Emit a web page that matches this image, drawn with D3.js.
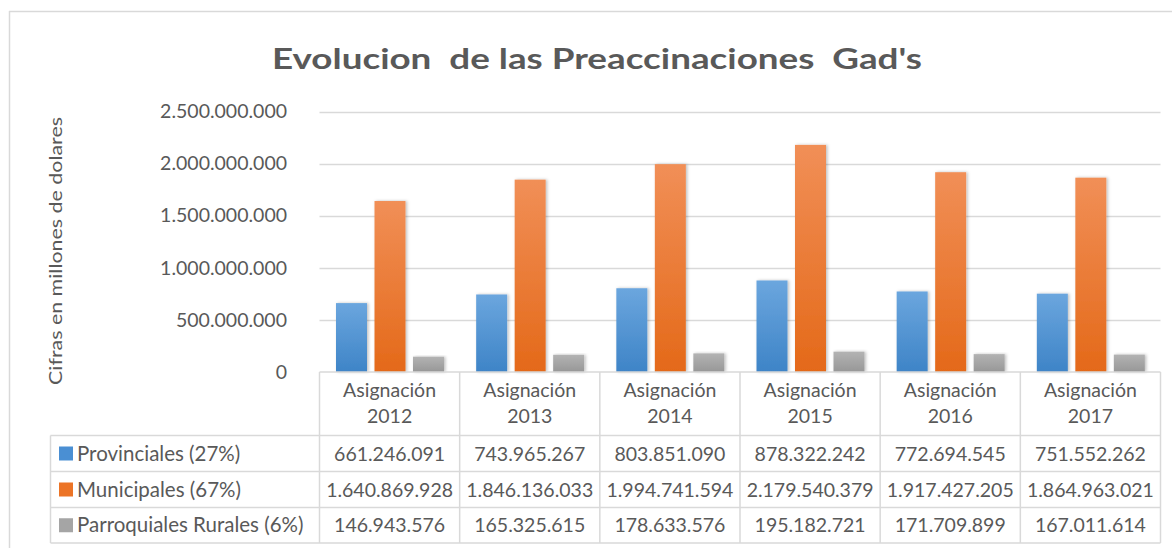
<!DOCTYPE html>
<html><head><meta charset="utf-8">
<script src="https://cdn.jsdelivr.net/npm/d3@7"></script>
<style>
html,body{margin:0;padding:0;background:#fff;}
svg{display:block;font-family:Lato,"Open Sans",sans-serif;}
</style></head>
<body>
<svg id="chart" width="1172" height="548"></svg>
<script>
const categories = ["Asignación 2012","Asignación 2013","Asignación 2014","Asignación 2015","Asignación 2016","Asignación 2017"];
const seriesNames = ["Provinciales (27%)","Municipales (67%)","Parroquiales Rurales (6%)"];
const provinciales = [661246091, 743965267, 803851090, 878322242, 772694545, 751552262];
const municipales = [1640869928, 1846136033, 1994741594, 2179540379, 1917427205, 1864963021];
const parroquiales = [146943576, 165325615, 178633576, 195182721, 171709899, 167011614];
const yTicks = [0, 500000000, 1000000000, 1500000000, 2000000000, 2500000000];
const titleText = "Evolucion  de las Preaccinaciones  Gad's";
const yLabel = "Cifras en millones de dolares";

const series = [provinciales, municipales, parroquiales];
const colorsTop = ["#6ba6de","#f18f57","#b3b3b3"];
const colorsBot = ["#3e84c7","#e46919","#979797"];
const keyColors = ["#4a8fd3","#ec7426","#a5a5a5"];
const textColor = "#595959";
const lineColor = "#d9d9d9";

const svg = d3.select("#chart");
const defs = svg.append("defs");
series.forEach((s,i)=>{
  const g = defs.append("linearGradient").attr("id","grad"+i).attr("x1",0).attr("y1",0).attr("x2",0).attr("y2",1);
  g.append("stop").attr("offset","0%").attr("stop-color",colorsTop[i]);
  g.append("stop").attr("offset","100%").attr("stop-color",colorsBot[i]);
});
const f = defs.append("filter").attr("id","shadow").attr("x","-20%").attr("y","-10%").attr("width","150%").attr("height","130%");
f.append("feDropShadow").attr("dx",1.5).attr("dy",0).attr("stdDeviation",1.5).attr("flood-color","#000").attr("flood-opacity",0.25);

// outer frame
svg.append("line").attr("x1",9).attr("x2",1172).attr("y1",11.5).attr("y2",11.5).attr("stroke",lineColor).attr("stroke-width",1.5);
svg.append("line").attr("x1",9.5).attr("x2",9.5).attr("y1",11).attr("y2",548).attr("stroke",lineColor).attr("stroke-width",1.5);

const plotLeft = 319.5, plotRight = 1160.5, plotTop = 111.5, plotBottom = 372;
const x = d3.scaleBand().domain(categories).range([plotLeft, plotRight]).padding(0);
const xInner = d3.scaleBand().domain(d3.range(3)).range([16.5, 124.5]).paddingInner(0.195).paddingOuter(0);
const y = d3.scaleLinear().domain([0, 2500000000]).range([plotBottom, plotTop]);

const fmt = v => d3.format(",")(v).replace(/,/g,".");

// gridlines
svg.append("g").selectAll("line").data(yTicks.filter(d=>d>0)).join("line")
  .attr("x1",plotLeft).attr("x2",plotRight)
  .attr("y1",d=>Math.round(y(d))+0.5).attr("y2",d=>Math.round(y(d))+0.5)
  .attr("stroke",lineColor).attr("stroke-width",1.5);

// y axis labels
const yAxis = d3.axisLeft(y).tickValues(yTicks).tickFormat(fmt).tickSize(0).tickPadding(0);
const yg = svg.append("g").attr("transform","translate(287,0)").call(yAxis);
yg.select(".domain").remove();
yg.selectAll("text").attr("fill",textColor).style("font-size","19.5px").style("font-family","Lato");

// title
const title = svg.append("text").attr("x",597).attr("y",69).attr("text-anchor","middle")
  .attr("fill",textColor).style("font-size","28.5px").style("font-weight","bold").style("white-space","pre")
  .attr("xml:space","preserve").text(titleText);
title.attr("textLength",650).attr("lengthAdjust","spacingAndGlyphs");

// y label
const yl = svg.append("text").attr("transform","translate(62,251) rotate(-90)").attr("text-anchor","middle")
  .attr("fill",textColor).style("font-size","17.5px").text(yLabel);
yl.attr("textLength",268).attr("lengthAdjust","spacingAndGlyphs");

// bars
const barG = svg.append("g");
categories.forEach((c,ci)=>{
  series.forEach((s,si)=>{
    barG.append("rect")
      .attr("x", x(c)+xInner(si)).attr("width", xInner.bandwidth())
      .attr("y", y(s[ci])).attr("height", plotBottom - y(s[ci]))
      .attr("fill","url(#grad"+si+")").attr("filter","url(#shadow)");
  });
});

// data table
const rowY = [435.5, 471.5, 507.5, 543];
const tableLeft = 50.5;
const tg = svg.append("g").attr("stroke",lineColor).attr("stroke-width",1.5);
tg.append("line").attr("x1",plotLeft).attr("x2",plotRight).attr("y1",plotBottom).attr("y2",plotBottom);
rowY.forEach(ry=>tg.append("line").attr("x1",tableLeft).attr("x2",plotRight).attr("y1",ry).attr("y2",ry));
tg.append("line").attr("x1",tableLeft).attr("x2",tableLeft).attr("y1",rowY[0]).attr("y2",rowY[3]);
categories.concat([null]).forEach((c,i)=>{
  const xx = c ? x(c) : plotRight;
  tg.append("line").attr("x1",xx).attr("x2",xx).attr("y1",plotBottom).attr("y2",rowY[3]);
});

// category header labels
categories.forEach(c=>{
  const parts = c.split(" ");
  const t = svg.append("text").attr("x", x(c)+x.bandwidth()/2).attr("text-anchor","middle")
    .attr("fill",textColor).style("font-size","19.5px");
  t.append("tspan").attr("x", x(c)+x.bandwidth()/2).attr("y",397).text(parts[0]);
  t.append("tspan").attr("x", x(c)+x.bandwidth()/2).attr("y",423).text(parts[1]);
});

// rows
series.forEach((s,si)=>{
  const cy = (rowY[si]+rowY[si+1])/2;
  svg.append("rect").attr("x",59).attr("y",cy-7).attr("width",14).attr("height",14).attr("fill",keyColors[si]);
  svg.append("text").attr("x",77).attr("y",cy+7).attr("fill",textColor).style("font-size","20.5px").text(seriesNames[si]);
  categories.forEach((c,ci)=>{
    svg.append("text").attr("x", x(c)+x.bandwidth()/2).attr("y",cy+7).attr("text-anchor","middle")
      .attr("fill",textColor).style("font-size","19.5px").text(fmt(s[ci]));
  });
});
</script>
</body></html>
